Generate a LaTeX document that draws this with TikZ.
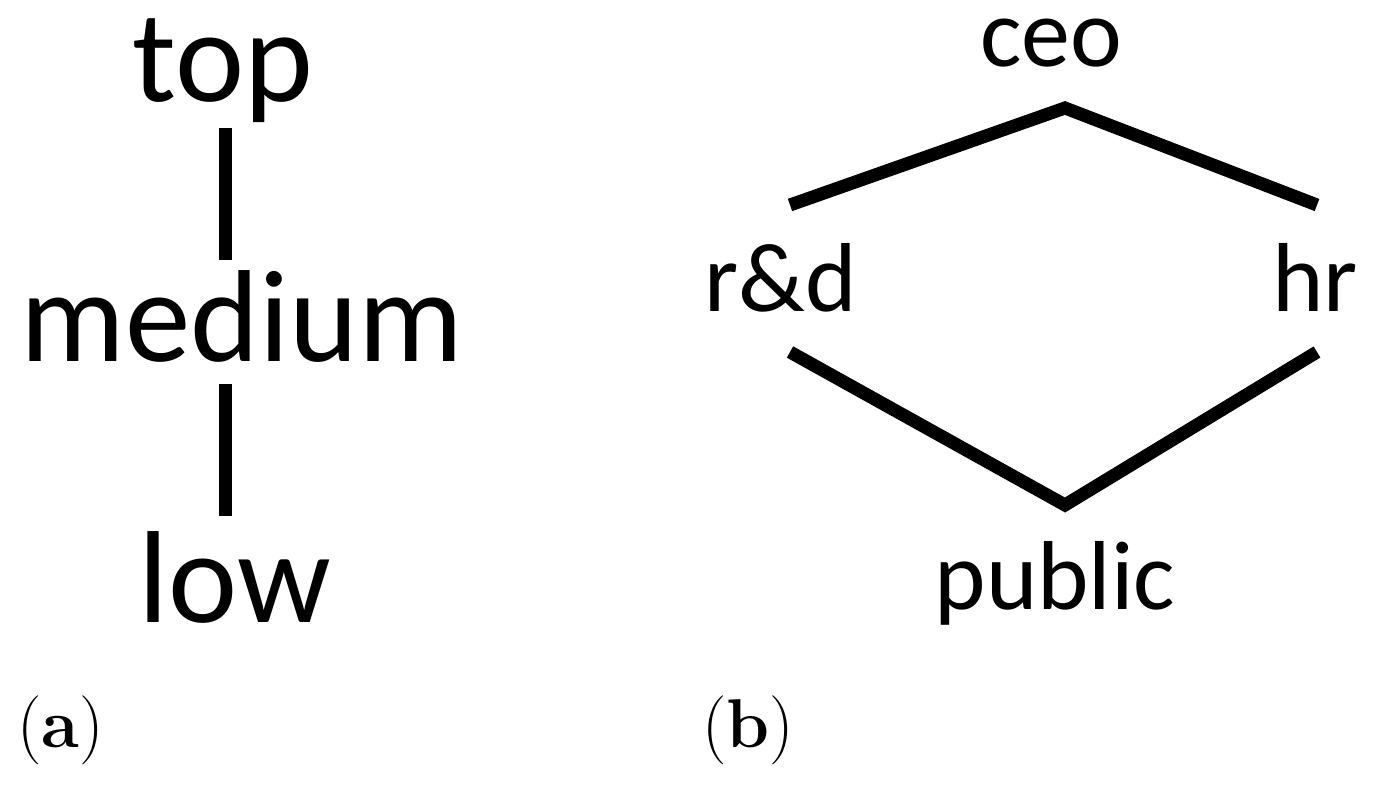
\documentclass[tikz,border=0pt]{standalone}
\usepackage{fontspec}
\newfontfamily\labelfont{Carlito}
\begin{document}
\begin{tikzpicture}[x=0.5pt,y=-0.5pt,
  biglbl/.style={anchor=base,inner sep=0pt,font=\labelfont\fontsize{65.5}{70}\selectfont},
  smalllbl/.style={anchor=base,inner sep=0pt,font=\labelfont\fontsize{49}{55}\selectfont},
  captionlbl/.style={anchor=base west,inner sep=0pt,font=\fontsize{34.5}{38}\selectfont},
  edge/.style={line width=6.5pt}]
\useasboundingbox (0,0) rectangle (1378,791);
\node[biglbl] (top) at (223,102) {top};
\node[biglbl] (medium) at (242,362) {medium};
\node[biglbl] (low) at (235,622) {low};
\coordinate (a1) at (225,128);
\coordinate (a2) at (225,260);
\coordinate (a3) at (225,384);
\coordinate (a4) at (225,516);
\draw[edge] (a1) -- (a2);
\draw[edge] (a3) -- (a4);
\node[smalllbl] (ceo) at (1051,67) {ceo};
\node[smalllbl] (rd) at (781,312) {r\&d};
\node[smalllbl] (hr) at (1315,312) {hr};
\node[smalllbl] (public) at (1055,610) {public};
\coordinate (b1) at (790,205);
\coordinate (b2) at (1065,108);
\coordinate (b3) at (1317,205);
\coordinate (b4) at (790,352);
\coordinate (b5) at (1065,505);
\coordinate (b6) at (1317,352);
\draw[edge] (b1) -- (b2) -- (b3);
\draw[edge] (b4) -- (b5) -- (b6);
\node[captionlbl] (capa) at (17,747) {(\textbf{a})};
\node[captionlbl] (capb) at (702,747) {(\textbf{b})};
\end{tikzpicture}
\end{document}
